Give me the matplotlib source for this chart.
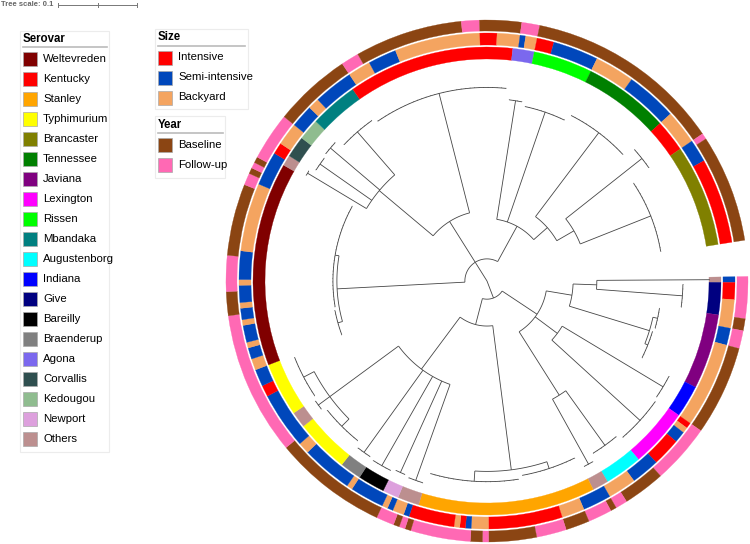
import numpy as np
import matplotlib
matplotlib.use('Agg')
import matplotlib.pyplot as plt
from matplotlib.patches import Wedge, Rectangle
from matplotlib.collections import LineCollection

plt.rcParams['font.family'] = ['Liberation Sans', 'DejaVu Sans']

# tree in newick form, "*k" = polytomy of k leaves (leaf order = ring order)
TREE = ("(((((*1:0.143,*6:0.109):0.030,(*6:0.006,*8:0.004):0.106):0.033,"
        "(*6:0.149,*11:0.151):0.035,(*7:0.085,*3:0.094):0.095):0.053,"
        "((*13:0.009,*20:0.013):0.184,"
        "(*4:0.129,*3:0.127,*5:0.130,*4:0.128,(*10:0.013,*3:0.018,*10:0.015):0.108):0.082):0.034):0.023,"
        "((*8:0.006,*30:0.005):0.162,"
        "((*2:0.087,*4:0.080,*4:0.082,*9:0.072):0.089,*31:0.156):0.061,"
        "(*4:0.152,*11:0.147,(*16:0.133,(*6:0.123,*19:0.096):0.025):0.023):0.051):0.028);")
LEAF_LEN = 0.0006

serovar_names = ['Weltevreden', 'Kentucky', 'Stanley', 'Typhimurium', 'Brancaster', 'Tennessee',
                 'Javiana', 'Lexington', 'Rissen', 'Mbandaka', 'Augustenborg', 'Indiana', 'Give',
                 'Bareilly', 'Braenderup', 'Agona', 'Corvallis', 'Kedougou', 'Newport', 'Others']
serovar_colors = ['#800000', '#ff0000', '#ffa500', '#ffff00', '#808000', '#008000',
                  '#800080', '#ff00ff', '#00ff00', '#008080', '#00ffff', '#0000ff', '#000080',
                  '#000000', '#808080', '#7b68ee', '#2f4f4f', '#8fbc8f', '#dda0dd', '#bc8f8f']
size_names = ['Intensive', 'Semi-intensive', 'Backyard']
size_colors = ['#ff0000', '#0047bb', '#f4a460']
year_names = ['Baseline', 'Follow-up']
year_colors = ['#8b4513', '#ff69b4']

# annotation runs along the leaf order: (category, number of leaves)
serovar_runs = [('Others', 1), ('Give', 6), ('Javiana', 14), ('Indiana', 6), ('Lexington', 11),
                ('Augustenborg', 7), ('Others', 3), ('Stanley', 33), ('Others', 4), ('Newport', 3),
                ('Bareilly', 5), ('Braenderup', 4), ('Typhimurium', 10), ('Others', 3),
                ('Typhimurium', 10), ('Weltevreden', 38), ('Others', 2), ('Corvallis', 4),
                ('Kedougou', 4), ('Mbandaka', 9), ('Kentucky', 31), ('Agona', 4), ('Rissen', 11),
                ('Tennessee', 16), ('Kentucky', 6), ('Brancaster', 19)]
S, I, B = 'Semi-intensive', 'Intensive', 'Backyard'
size_runs = [(S, 1), (I, 3), (B, 5), (S, 3), (B, 15), (I, 1), (B, 1), (S, 2), (I, 5), (S, 5),
             (B, 5), (S, 5), (B, 4), (I, 13), (B, 3), (S, 1), (I, 1), (B, 1), (I, 8), (S, 1),
             (B, 2), (S, 1), (B, 1), (S, 6), (B, 1), (S, 9), (B, 2), (S, 10), (I, 2), (S, 3),
             (B, 2), (S, 2), (B, 1), (S, 3), (B, 1), (S, 2), (B, 1), (S, 3), (B, 1), (S, 5),
             (B, 12), (S, 6), (I, 2), (B, 4), (S, 4), (B, 2), (S, 7), (B, 4), (S, 5), (B, 15),
             (I, 3), (B, 4), (S, 1), (B, 2), (I, 3), (S, 8), (B, 7), (S, 9), (B, 6), (S, 4), (I, 15)]
F, O = 'Follow-up', 'Baseline'
year_runs = [(F, 7), (O, 2), (F, 3), (O, 15), (F, 10), (O, 7), (F, 2), (O, 1),
             (F, 4), (O, 4), (F, 5), (O, 8), (F, 1), (O, 2), (F, 10), (O, 1), (F, 1), (O, 1),
             (F, 3), (O, 19), (F, 24), (O, 4), (F, 6), (O, 12), (F, 2), (O, 1), (F, 1), (O, 1),
             (F, 8), (O, 13), (F, 3), (O, 18), (F, 3), (O, 7), (F, 3), (O, 33), (F, 1), (O, 18)]

# layout (pixels)
CX, CY = 487, 281
PX_PER_UNIT = 790.0
START, SPAN = -1.0, 352.0
RINGS = [(222, 234), (236, 248), (250, 261)]


def parse(s):
    pos = 0

    def node():
        nonlocal pos
        if s[pos] == '(':
            pos += 1
            kids = [node()]
            while s[pos] == ',':
                pos += 1
                kids.append(node())
            pos += 1
            n = {'kids': kids}
        else:
            pos += 1
            j = pos
            while s[pos].isdigit():
                pos += 1
            k = int(s[j:pos])
            n = {'kids': [{'kids': [], 'len': LEAF_LEN} for _ in range(k)]} if k > 1 else {'kids': []}
        n['len'] = 0.0
        if pos < len(s) and s[pos] == ':':
            pos += 1
            j = pos
            while s[pos] in '0123456789.':
                pos += 1
            n['len'] = float(s[j:pos])
        return n
    return node()


root = parse(TREE)
n_leaves = sum(c for _, c in serovar_runs)
step = SPAN / n_leaves


def xy(r, a):
    t = np.radians(a)
    return CX + r * np.cos(t), CY + r * np.sin(t)


segs = []
counter = [0]


def layout(n, r0):
    r = r0 + n['len'] * PX_PER_UNIT
    if not n['kids']:
        a = START + (counter[0] + 0.5) * step
        counter[0] += 1
    else:
        angs = [layout(k, r) for k in n['kids']]
        a = (angs[0] + angs[-1]) / 2
        arc = np.linspace(angs[0], angs[-1], max(2, int(abs(angs[-1] - angs[0]) * 2)))
        segs.append(np.column_stack(xy(r, arc)))
    if n['len'] > 0:
        segs.append(np.array([xy(r0, a), xy(r, a)]))
    return a


layout(root, 0.0)

fig = plt.figure(figsize=(7.5, 5.44), dpi=100)
ax = fig.add_axes([0, 0, 1, 1])
ax.set_xlim(0, 750)
ax.set_ylim(544, 0)
ax.axis('off')

ax.add_collection(LineCollection(segs, colors='#454545', linewidths=0.6))

# rings
for runs, names, colors, (r_in, r_out) in [(serovar_runs, serovar_names, serovar_colors, RINGS[0]),
                                            (size_runs, size_names, size_colors, RINGS[1]),
                                            (year_runs, year_names, year_colors, RINGS[2])]:
    cmap = dict(zip(names, colors))
    i = 0
    for cat, c in runs:
        ax.add_patch(Wedge((CX, CY), r_out, START + i * step, START + (i + c) * step,
                           width=r_out - r_in, facecolor=cmap[cat], edgecolor=cmap[cat], lw=0.2))
        i += c

# tree scale
ax.text(1, 5, 'Tree scale: 0.1', fontsize=5.5, fontweight='bold', color='#666', va='center')
x0 = 58
ax.plot([x0, x0 + 0.1 * PX_PER_UNIT], [4.5, 4.5], color='#777', lw=0.7)
for xt in [x0, x0 + 0.05 * PX_PER_UNIT, x0 + 0.1 * PX_PER_UNIT]:
    ax.plot([xt, xt], [2.5, 6.5], color='#777', lw=0.7)


def legend(x, y_title, title, names, colors, line_w, box):
    ax.add_patch(Rectangle(box[:2], box[2], box[3], facecolor='none', edgecolor='#ececec', lw=0.8))
    ax.text(x, y_title, title, fontsize=8.3, fontweight='bold', va='center')
    ax.plot([x, x + line_w], [y_title + 8.5, y_title + 8.5], color='#bbb', lw=1.2)
    for k, (nm, c) in enumerate(zip(names, colors)):
        yc = y_title + 20.5 + 20 * k
        ax.add_patch(Rectangle((x, yc - 7), 14, 14, facecolor=c, edgecolor='#aaa', lw=0.5))
        ax.text(x + 20, yc, nm, fontsize=8.2, va='center')


legend(23, 38.5, 'Serovar', serovar_names, serovar_colors, 84, (20, 31, 89, 421))
legend(158, 37, 'Size', size_names, size_colors, 87, (155, 29, 93, 80))
legend(158, 124.5, 'Year', year_names, year_colors, 65, (155, 116, 70, 62))

fig.savefig('out.png', dpi=100)
